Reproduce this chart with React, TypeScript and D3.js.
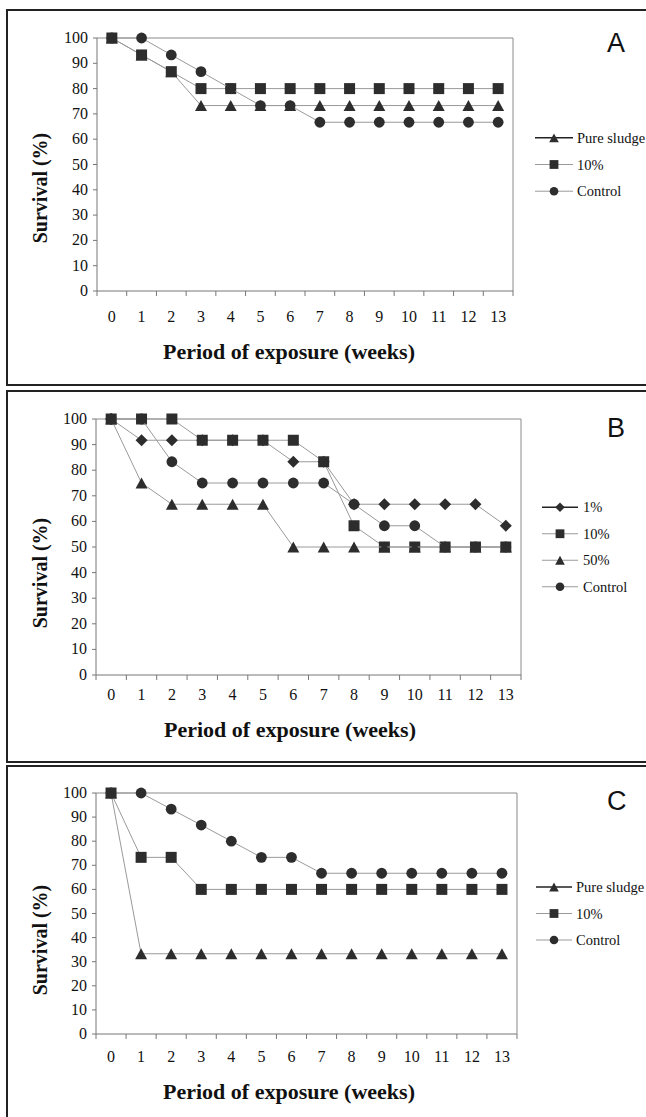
import React from 'react';
import * as d3 from 'd3';

// weeks on the x axis
const weeks = [0, 1, 2, 3, 4, 5, 6, 7, 8, 9, 10, 11, 12, 13];
const yTicks = [0, 10, 20, 30, 40, 50, 60, 70, 80, 90, 100];

// Panel A
const aNames = ['Pure sludge', '10%', 'Control'];
const aPureSludge = [100, 93.3, 86.7, 73.3, 73.3, 73.3, 73.3, 73.3, 73.3, 73.3, 73.3, 73.3, 73.3, 73.3];
const aTen = [100, 93.3, 86.7, 80, 80, 80, 80, 80, 80, 80, 80, 80, 80, 80];
const aControl = [100, 100, 93.3, 86.7, 80, 73.3, 73.3, 66.7, 66.7, 66.7, 66.7, 66.7, 66.7, 66.7];

// Panel B
const bNames = ['1%', '10%', '50%', 'Control'];
const bOne = [100, 91.7, 91.7, 91.7, 91.7, 91.7, 83.3, 83.3, 66.7, 66.7, 66.7, 66.7, 66.7, 58.3];
const bTen = [100, 100, 100, 91.7, 91.7, 91.7, 91.7, 83.3, 58.3, 50, 50, 50, 50, 50];
const bFifty = [100, 75, 66.7, 66.7, 66.7, 66.7, 50, 50, 50, 50, 50, 50, 50, 50];
const bControl = [100, 100, 83.3, 75, 75, 75, 75, 75, 66.7, 58.3, 58.3, 50, 50, 50];

// Panel C
const cNames = ['Pure sludge', '10%', 'Control'];
const cPureSludge = [100, 33.3, 33.3, 33.3, 33.3, 33.3, 33.3, 33.3, 33.3, 33.3, 33.3, 33.3, 33.3, 33.3];
const cTen = [100, 73.3, 73.3, 60, 60, 60, 60, 60, 60, 60, 60, 60, 60, 60];
const cControl = [100, 100, 93.3, 86.7, 80, 73.3, 73.3, 66.7, 66.7, 66.7, 66.7, 66.7, 66.7, 66.7];

const serif = { fontFamily: "'Liberation Serif', 'Times New Roman', Times, serif" };
const sans = { fontFamily: "'Liberation Sans', Arial, sans-serif" };
const MARK = '#2d2d2d';

function markerPath(shape, k = 1) {
  if (shape === 'triangle') {
    const w = 12 * k, h = 11 * k;
    return `M0,${-h / 2}L${w / 2},${h / 2}L${-w / 2},${h / 2}Z`;
  }
  if (shape === 'diamond') {
    const r = 6 * k;
    return `M0,${-r}L${r},0L0,${r}L${-r},0Z`;
  }
  if (shape === 'square') {
    const s = 11 * k;
    return d3.symbol(d3.symbolSquare, s * s)();
  }
  const r = 5.4 * k;
  return d3.symbol(d3.symbolCircle, Math.PI * r * r)();
}

function Panel({ cfg, names, series, shapes }) {
  const { left, right, top, bottom } = cfg;
  const x = d3.scaleBand().domain(weeks.map(String)).range([left, right]);
  const y = d3.scaleLinear().domain([0, 100]).range([bottom, top]);
  const cx = (w) => x(String(w)) + x.bandwidth() / 2;
  const line = d3.line().x((d, i) => cx(weeks[i])).y((d) => y(d));
  const mid = (top + bottom) / 2;
  const legendY = (i) => mid + (i - (names.length - 1) / 2) * cfg.legendGap;

  return (
    <g>
      <rect x={7} y={cfg.frameTop} width={680} height={cfg.frameBottom - cfg.frameTop}
        fill="white" stroke="#222" strokeWidth={2} />
      {/* plot border */}
      <line x1={left} x2={right} y1={top} y2={top} stroke="#8a8a8a" />
      <line x1={right} x2={right} y1={top} y2={bottom} stroke="#8a8a8a" />
      <line x1={left} x2={left} y1={top} y2={bottom} stroke="#777" />
      <line x1={left} x2={right} y1={bottom} y2={bottom} stroke="#777" />
      {yTicks.map((t) => (
        <g key={'y' + t}>
          <line x1={left - 4} x2={left} y1={y(t)} y2={y(t)} stroke="#777" />
          <text x={left - 9} y={y(t) + 5} textAnchor="end" fontSize={16} style={serif} fill="#111">{t}</text>
        </g>
      ))}
      {weeks.concat([weeks.length]).map((w, i) => {
        const xx = i < weeks.length ? x(String(w)) : right;
        return <line key={'xt' + i} x1={xx} x2={xx} y1={bottom} y2={bottom + 5} stroke="#777" />;
      })}
      {weeks.map((w) => (
        <text key={'xl' + w} x={cx(w)} y={cfg.xLabelY} textAnchor="middle" fontSize={16} style={serif} fill="#111">{w}</text>
      ))}
      <text x={cfg.xTitleX} y={cfg.xTitleY} textAnchor="middle" fontSize={22} fontWeight="bold" style={serif} fill="#111">
        Period of exposure (weeks)
      </text>
      <text transform={`translate(${cfg.yTitleX},${cfg.yTitleY}) rotate(-90)`} textAnchor="middle" fontSize={20}
        fontWeight="bold" style={serif} fill="#111">Survival (%)</text>
      <text x={cfg.letterX} y={cfg.letterY} fontSize={27} style={sans} fill="#111">{cfg.letter}</text>

      {series.map((vals, si) => (
        <g key={'s' + si}>
          <path d={line(vals)} fill="none" stroke="#9a9a9a" strokeWidth={1} />
          {vals.map((v, i) => (
            <path key={i} d={markerPath(shapes[si])} transform={`translate(${cx(weeks[i])},${y(v)})`} fill={MARK} />
          ))}
        </g>
      ))}

      {names.map((n, i) => (
        <g key={'lg' + i}>
          <line x1={cfg.legendX0} x2={cfg.legendX1} y1={legendY(i)} y2={legendY(i)}
            stroke={i === 0 ? '#222' : '#9a9a9a'} strokeWidth={i === 0 ? 1.6 : 1} />
          <path d={markerPath(shapes[i], 0.8)} transform={`translate(${(cfg.legendX0 + cfg.legendX1) / 2},${legendY(i)})`} fill={MARK} />
          <text x={cfg.legendText} y={legendY(i) + 5} fontSize={14.5} style={serif} fill="#111">{n}</text>
        </g>
      ))}
    </g>
  );
}

const cfgA = {
  frameTop: 10, frameBottom: 385, left: 97, right: 513, top: 38, bottom: 291,
  xLabelY: 322, xTitleX: 289, xTitleY: 359, yTitleX: 47, yTitleY: 188,
  letter: 'A', letterX: 607, letterY: 52, legendX0: 535, legendX1: 573, legendText: 577, legendGap: 26.7,
};
const cfgB = {
  frameTop: 391, frameBottom: 762, left: 96, right: 521, top: 419, bottom: 675,
  xLabelY: 700, xTitleX: 290, xTitleY: 737, yTitleX: 47, yTitleY: 573,
  letter: 'B', letterX: 607, letterY: 437, legendX0: 542, legendX1: 578, legendText: 583, legendGap: 26.5,
};
const cfgC = {
  frameTop: 766, frameBottom: 1140, left: 96, right: 517, top: 793, bottom: 1034,
  xLabelY: 1062, xTitleX: 289, xTitleY: 1099, yTitleX: 47, yTitleY: 940,
  letter: 'C', letterX: 607, letterY: 810, legendX0: 536, legendX1: 572, legendText: 576, legendGap: 26.5,
};

export default function App() {
  return (
    <svg width={646} height={1117} style={{ position: 'absolute', left: 0, top: 0, background: 'white' }}>
      <Panel cfg={cfgA} names={aNames} series={[aPureSludge, aTen, aControl]} shapes={['triangle', 'square', 'circle']} />
      <Panel cfg={cfgB} names={bNames} series={[bOne, bTen, bFifty, bControl]} shapes={['diamond', 'square', 'triangle', 'circle']} />
      <Panel cfg={cfgC} names={cNames} series={[cPureSludge, cTen, cControl]} shapes={['triangle', 'square', 'circle']} />
    </svg>
  );
}
